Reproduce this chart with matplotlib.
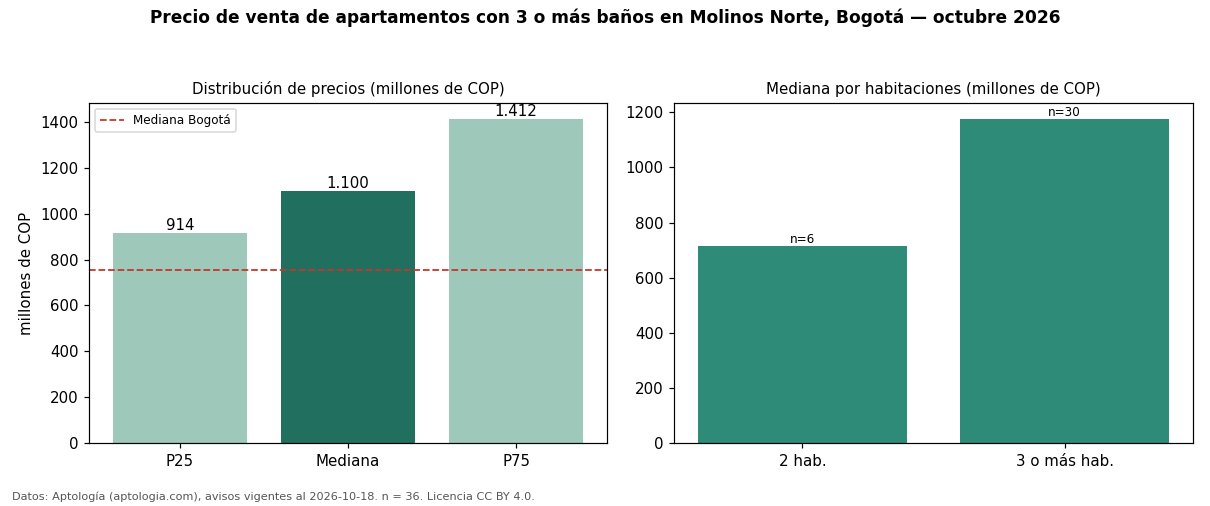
import matplotlib
matplotlib.use("Agg")
import matplotlib.pyplot as plt

cats_left = ["P25", "Mediana", "P75"]
vals_left = [914, 1100, 1412]
labels_left = ["914", "1.100", "1.412"]
colors_left = ["#9ec8ba", "#21705f", "#9ec8ba"]
mediana_bogota = 755

cats_right = ["2 hab.", "3 o más hab."]
vals_right = [714, 1175]
n_right = [6, 30]
color_right = "#2e8b77"

DPI = 108
fig = plt.figure(figsize=(1210/DPI, 506/DPI), dpi=DPI)
ax1 = fig.add_axes([89/1210, 1-443/506, (607-89)/1210, (443-103)/506])
ax2 = fig.add_axes([674/1210, 1-443/506, (1193-674)/1210, (443-103)/506])

x1 = range(len(cats_left))
bars = ax1.bar(x1, vals_left, color=colors_left, width=0.8)
ax1.set_xticks(list(x1))
ax1.set_xticklabels(cats_left)
for b, lab in zip(bars, labels_left):
    ax1.text(b.get_x() + b.get_width()/2, b.get_height(), lab, ha="center", va="bottom", fontsize=10)
ax1.axhline(mediana_bogota, color="#c0392b", linestyle="--", linewidth=1.2, label="Mediana Bogotá")
ax1.legend(loc="upper left", fontsize=8)
ax1.set_ylim(0, max(vals_left)*1.05)
ax1.set_ylabel("millones de COP", fontsize=10)
ax1.set_title("Distribución de precios (millones de COP)", fontsize=10, pad=6)
ax1.tick_params(labelsize=10)

x2 = range(len(cats_right))
bars2 = ax2.bar(x2, vals_right, color=color_right, width=0.8)
ax2.set_xticks(list(x2))
ax2.set_xticklabels(cats_right)
for b, n in zip(bars2, n_right):
    ax2.text(b.get_x() + b.get_width()/2, b.get_height(), f"n={n}", ha="center", va="bottom", fontsize=8)
ax2.set_ylim(0, max(vals_right)*1.05)
ax2.set_title("Mediana por habitaciones (millones de COP)", fontsize=10, pad=6)
ax2.tick_params(labelsize=10)

fig.suptitle("Precio de venta de apartamentos con 3 o más baños en Molinos Norte, Bogotá — octubre 2026",
             fontsize=11.3, fontweight="bold", y=1-18/506, va="center")
fig.text(12/1210, 1-497/506, "Datos: Aptología (aptologia.com), avisos vigentes al 2026-10-18. n = 36. Licencia CC BY 4.0.",
         fontsize=7.5, color="#555555", va="center")

fig.savefig("out.png", dpi=DPI)
